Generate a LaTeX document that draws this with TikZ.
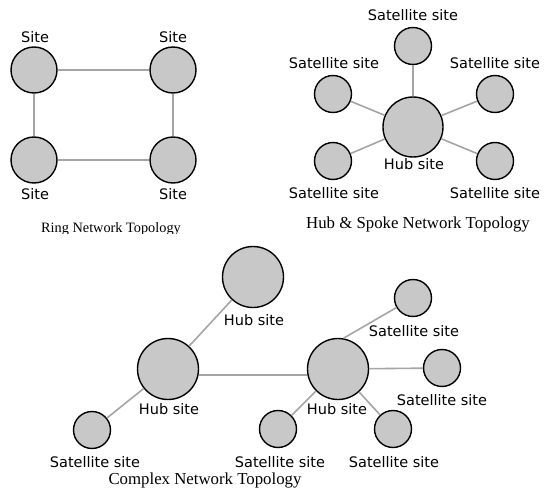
\documentclass[tikz,border=0pt]{standalone}
\usepackage{fontspec}
\setmainfont{Liberation Serif}
\setsansfont{DejaVu Sans}
\definecolor{nodegray}{RGB}{200,200,200}
\definecolor{linegray}{RGB}{165,165,165}
\begin{document}
\begin{tikzpicture}[x=1pt,y=-1pt,
  sitecirc/.style={circle,draw=black,line width=1.4pt,fill=nodegray,inner sep=0pt,minimum size=#1},
  link/.style={draw=linegray,line width=1.6pt},
  lab/.style={font=\fontsize{14.5}{16}\sffamily,inner sep=0pt},
  capt/.style={font=\fontsize{#1}{18}\rmfamily,inner sep=0pt,anchor=base}]
\useasboundingbox (0,0) rectangle (546,492);

% ---------- Ring ----------
\node[sitecirc=46pt] (r1) at (34,70) {};
\node[sitecirc=46pt] (r2) at (173,70) {};
\node[sitecirc=46pt] (r3) at (34,160) {};
\node[sitecirc=46pt] (r4) at (173,160) {};
\draw[link] (r1) -- (r2);
\draw[link] (r1) -- (r3);
\draw[link] (r2) -- (r4);
\draw[link] (r3) -- (r4);
\node[lab] (rl1) at (35,37) {Site};
\node[lab] (rl2) at (173,37) {Site};
\node[lab] (rl3) at (35,194) {Site};
\node[lab] (rl4) at (173,194) {Site};
\begin{scope}
\clip (0,200) rectangle (273,233.5);
\node[capt=14.3] (rcap) at (111,232) {Ring Network Topology};
\end{scope}

% ---------- Hub & Spoke ----------
\node[sitecirc=60pt] (hh) at (413,127) {};
\node[sitecirc=37pt] (hs1) at (413,46) {};
\node[sitecirc=37pt] (hs2) at (333,94) {};
\node[sitecirc=37pt] (hs3) at (495,94) {};
\node[sitecirc=37pt] (hs4) at (333,161) {};
\node[sitecirc=37pt] (hs5) at (495,161) {};
\draw[link] (hh) -- (hs1);
\draw[link] (hh) -- (hs2);
\draw[link] (hh) -- (hs3);
\draw[link] (hh) -- (hs4);
\draw[link] (hh) -- (hs5);
\node[lab] (hl1) at (413,15) {Satellite site};
\node[lab] (hl2) at (334,63) {Satellite site};
\node[lab] (hl3) at (495,63) {Satellite site};
\node[lab] (hlh) at (414,164) {Hub site};
\node[lab] (hl4) at (334,193) {Satellite site};
\node[lab] (hl5) at (495,193) {Satellite site};
\node[capt=16.8] (hcap) at (418,228) {Hub \& Spoke Network Topology};

% ---------- Complex ----------
\node[sitecirc=61pt] (ct) at (253,277) {};
\node[sitecirc=61pt] (cl) at (168,369) {};
\node[sitecirc=61pt] (cr) at (338,369) {};
\node[sitecirc=37pt] (cs1) at (413,298) {};
\node[sitecirc=37pt] (cs2) at (442,368) {};
\node[sitecirc=37pt] (cs3) at (393,429) {};
\node[sitecirc=37pt] (cs4) at (278,429) {};
\node[sitecirc=37pt] (cs5) at (92,430) {};
\draw[link] (cl) -- (ct);
\draw[link] (cl.-11) -- (cr.191);
\draw[link] (cr.80) -- (cs1.210);
\draw[link] (cr) -- (cs2);
\draw[link] (cr) -- (cs3);
\draw[link] (cr) -- (cs4);
\draw[link] (cl) -- (cs5);
\node[lab] (clt) at (254,320) {Hub site};
\node[lab] (cll) at (169,409) {Hub site};
\node[lab] (clr) at (337,409) {Hub site};
\node[lab] (cl1) at (414,331) {Satellite site};
\node[lab] (cl2) at (442,400) {Satellite site};
\node[lab] (cl3) at (394,462) {Satellite site};
\node[lab] (cl4) at (280,462) {Satellite site};
\node[lab] (cl5) at (95,462) {Satellite site};
\node[capt=16.8] (ccap) at (205,484) {Complex Network Topology};
\end{tikzpicture}
\end{document}
